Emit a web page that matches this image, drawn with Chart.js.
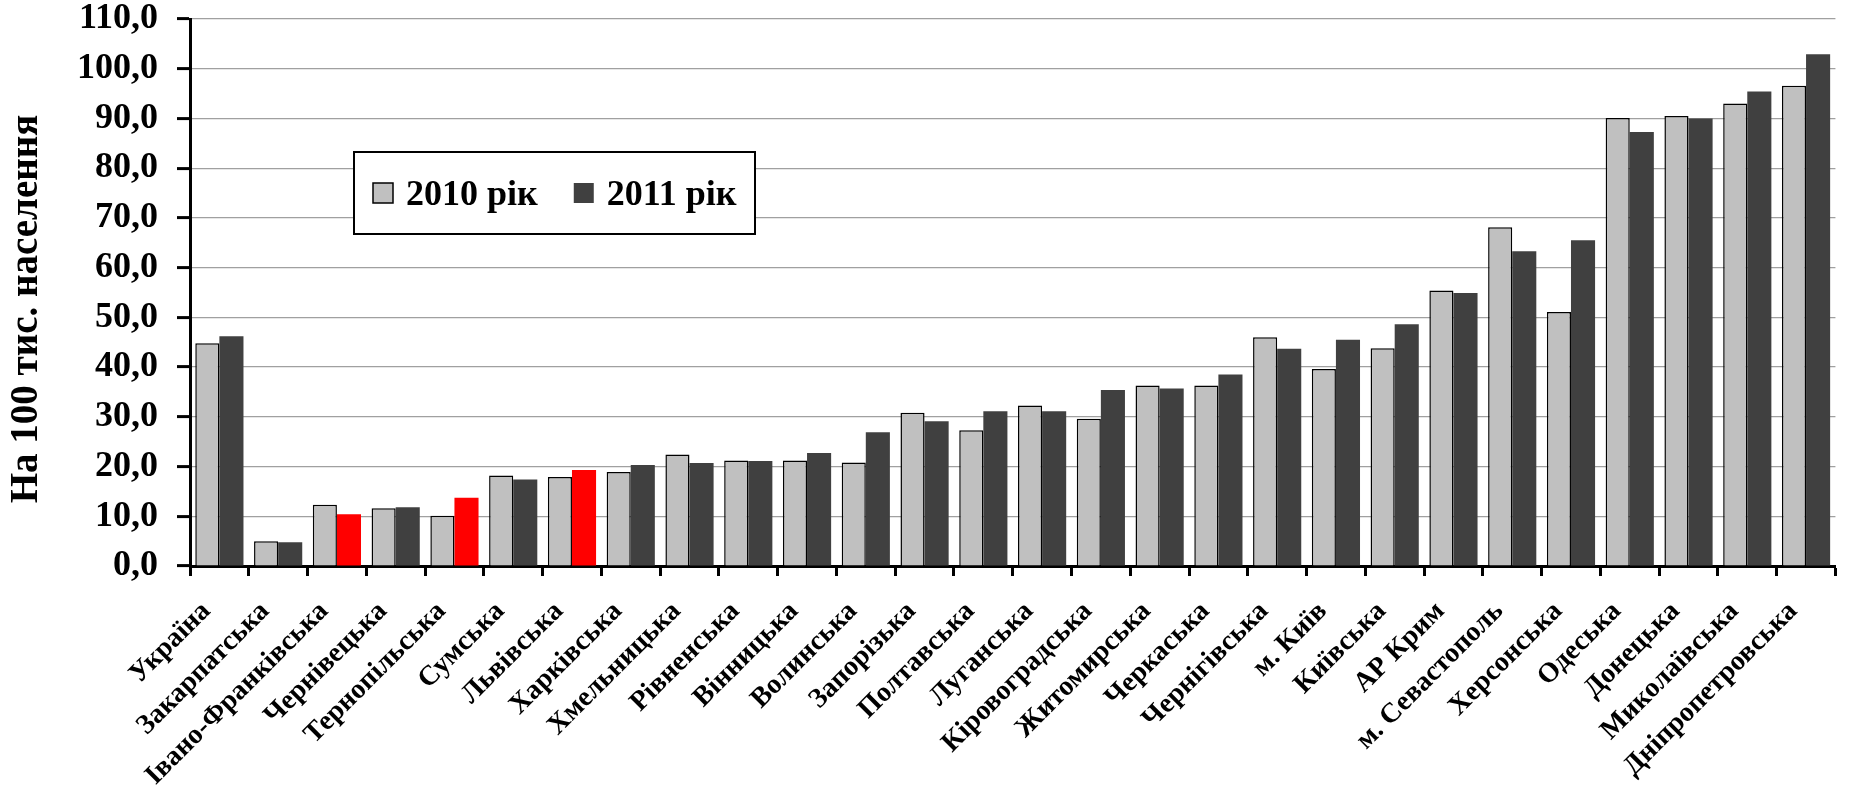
<!DOCTYPE html>
<html lang="uk">
<head>
<meta charset="utf-8">
<title>На 100 тис. населення, 2010–2011</title>
<script src="https://cdn.jsdelivr.net/npm/chart.js@4/dist/chart.umd.min.js"></script>
<style>
  html, body { margin: 0; padding: 0; background: #ffffff; }
  #wrap { width: 1849px; height: 787px; }
</style>
</head>
<body>
<div id="wrap"><canvas id="chart" width="1849" height="787"></canvas></div>
<script>
// Regions, ordered by the 2011 rate
const categories = [
  'Україна', 'Закарпатська', 'Івано-Франківська', 'Чернівецька', 'Тернопільська',
  'Сумська', 'Львівська', 'Харківська', 'Хмельницька', 'Рівненська', 'Вінницька',
  'Волинська', 'Запорізька', 'Полтавська', 'Луганська', 'Кіровоградська',
  'Житомирська', 'Черкаська', 'Чернігівська', 'м. Київ', 'Київська', 'АР Крим',
  'м. Севастополь', 'Херсонська', 'Одеська', 'Донецька', 'Миколаївська',
  'Дніпропетровська'
];

const values2010 = [
  44.8, 5.0, 12.3, 11.6, 10.1, 18.2, 17.9, 18.9, 22.4, 21.2, 21.2, 20.8, 30.8, 27.3,
  32.3, 29.6, 36.3, 36.3, 46.0, 39.6, 43.8, 55.4, 68.1, 51.1, 90.1, 90.5, 93.0, 96.6
];

const values2011 = [
  46.2, 4.8, 10.4, 11.8, 13.7, 17.4, 19.3, 20.3, 20.7, 21.1, 22.7, 26.9, 29.1, 31.1,
  31.1, 35.4, 35.7, 38.5, 43.7, 45.5, 48.6, 54.9, 63.3, 65.5, 87.3, 90.0, 95.4, 102.9
];

const seriesLabels = ['2010 рік', '2011 рік'];
const yAxisTitle = 'На 100 тис. населення';

// Regions whose 2011 bar is highlighted
const highlighted2011 = ['Івано-Франківська', 'Тернопільська', 'Львівська'];

const FONT = '"Liberation Serif", "Times New Roman", "DejaVu Serif", serif';
const GREY = '#c0c0c0';
const DARK = '#404040';
const RED = '#ff0000';

const colors2011 = categories.map(c => highlighted2011.includes(c) ? RED : DARK);

// Boxed legend drawn inside the plot area
const boxedLegend = {
  id: 'boxedLegend',
  afterDraw(chart) {
    const { ctx, chartArea } = chart;
    const left = chartArea.left + 164;
    const top = chartArea.top + 133;
    const w = 401, h = 82;
    ctx.save();
    ctx.fillStyle = '#ffffff';
    ctx.fillRect(left, top, w, h);
    ctx.lineWidth = 2;
    ctx.strokeStyle = '#000000';
    ctx.strokeRect(left, top, w, h);

    ctx.font = 'bold 36px ' + FONT;
    ctx.textBaseline = 'alphabetic';
    ctx.textAlign = 'left';
    let x = left + 19;
    const swY = top + 31;
    const baseY = top + 53;
    chart.data.datasets.forEach((ds, i) => {
      ctx.fillStyle = i === 0 ? GREY : DARK;
      ctx.fillRect(x, swY, 20, 20);
      if (i === 0) {
        ctx.lineWidth = 1.5;
        ctx.strokeStyle = '#000000';
        ctx.strokeRect(x, swY, 20, 20);
      }
      ctx.fillStyle = '#000000';
      ctx.fillText(ds.label, x + 33, baseY);
      x += 33 + ctx.measureText(ds.label).width + 36;
    });
    ctx.restore();
  }
};

// Vertical axis caption, set a little below the middle of the axis
const axisCaption = {
  id: 'axisCaption',
  afterDraw(chart) {
    const { ctx, chartArea } = chart;
    ctx.save();
    ctx.translate(27, chartArea.top + 290);
    ctx.rotate(-Math.PI / 2);
    ctx.font = 'bold 39px ' + FONT;
    ctx.fillStyle = '#000000';
    ctx.textAlign = 'center';
    ctx.textBaseline = 'middle';
    ctx.fillText(yAxisTitle, 0, 0);
    ctx.restore();
  }
};

new Chart(document.getElementById('chart'), {
  type: 'bar',
  data: {
    labels: categories,
    datasets: [
      {
        label: seriesLabels[0],
        data: values2010,
        backgroundColor: GREY,
        borderColor: '#000000',
        borderWidth: 1.5
      },
      {
        label: seriesLabels[1],
        data: values2011,
        backgroundColor: colors2011,
        borderWidth: 0
      }
    ]
  },
  options: {
    responsive: false,
    animation: false,
    devicePixelRatio: 1,
    layout: { padding: { top: 0, right: 11, left: 0, bottom: 0 } },
    datasets: {
      bar: { categoryPercentage: 0.82, barPercentage: 1.0 }
    },
    plugins: {
      legend: { display: false },
      tooltip: { enabled: false }
    },
    scales: {
      x: {
        afterFit(scale) { scale.height = 221; },
        grid: {
          drawOnChartArea: false,
          drawTicks: true,
          tickLength: 10,
          tickColor: '#000000',
          tickWidth: 3,
          offset: true
        },
        border: { display: true, color: '#000000', width: 3 },
        ticks: {
          autoSkip: false,
          minRotation: 45,
          maxRotation: 45,
          padding: 19,
          labelOffset: -13,
          color: '#000000',
          font: { family: FONT, size: 28, weight: 'bold' }
        }
      },
      y: {
        min: 0,
        max: 110,
        afterFit(scale) {
          scale.width = 190;
          scale.paddingTop = 19;
        },
        grid: {
          color: '#a0a0a0',
          lineWidth: 1.2,
          drawTicks: true,
          tickLength: 13,
          tickColor: '#000000',
          tickWidth: 3
        },
        border: { display: true, color: '#000000', width: 3 },
        ticks: {
          stepSize: 10,
          padding: 19,
          color: '#000000',
          font: { family: FONT, size: 36, weight: 'bold', lineHeight: 1.05 },
          callback: v => Number(v).toFixed(1).replace('.', ',')
        }
      }
    }
  },
  plugins: [boxedLegend, axisCaption]
});
</script>
</body>
</html>
